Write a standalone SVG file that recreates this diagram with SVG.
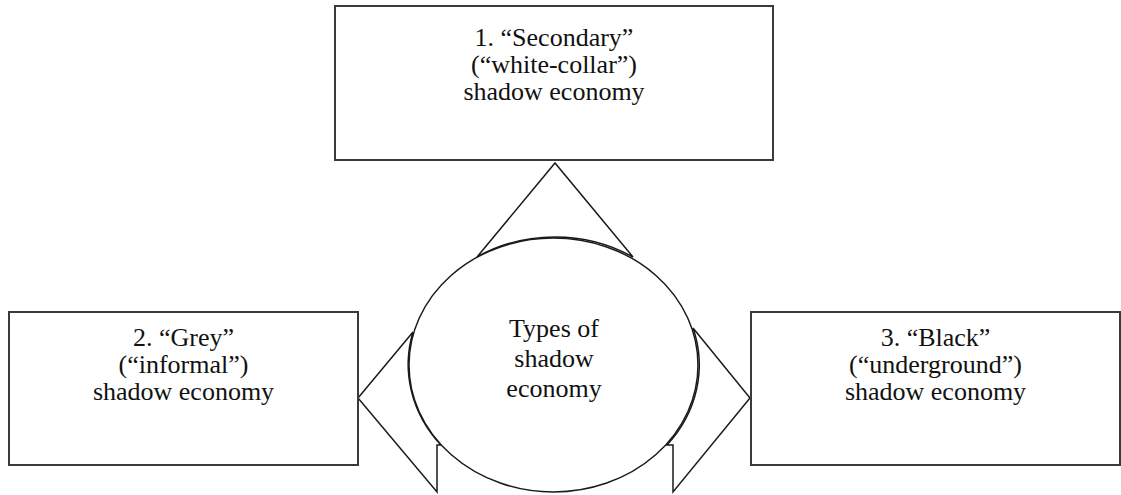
<svg xmlns="http://www.w3.org/2000/svg" width="1121" height="495" viewBox="0 0 1121 495">
  <style>
    .box { fill: #ffffff; stroke: #3a3a3a; stroke-width: 2; }
    .arrow { fill: #ffffff; stroke: #1a1a1a; stroke-width: 1.5; stroke-linejoin: miter; }
    .hub { fill: #ffffff; stroke: #1a1a1a; stroke-width: 1.5; }
    text { font-family: 'Liberation Serif', 'DejaVu Serif', serif; font-size: 26px; fill: #111111; text-anchor: middle; }
  </style>
  <rect width="1121" height="495" fill="#ffffff"/>
  <g id="connectors">
    <path class="arrow" d="M477,257 L555,163 L633,257 A144.5,127 0 0 0 477,257 Z"/>
    <path class="arrow" d="M413,332 L358,398 L437,492 L437,445 L441,445 A144.5,127 0 0 1 413,332 Z"/>
    <path class="arrow" d="M693,328 L750,398 L673,492 L673,445 L667,445 A144.5,127 0 0 0 693,328 Z"/>
  </g>
  <g id="node-center">
    <ellipse class="hub" cx="553.5" cy="365" rx="144.5" ry="127"/>
    <text x="554" y="337">Types of</text>
    <text x="554" y="367">shadow</text>
    <text x="554" y="397">economy</text>
  </g>
  <g id="node-secondary">
    <rect class="box" x="335" y="6" width="438" height="154"/>
    <text x="554" y="46">1. “Secondary”</text>
    <text x="554" y="73">(“white-collar”)</text>
    <text x="554" y="100">shadow economy</text>
  </g>
  <g id="node-grey">
    <rect class="box" x="9" y="312" width="349" height="153"/>
    <text x="183.5" y="346">2. “Grey”</text>
    <text x="183.5" y="373">(“informal”)</text>
    <text x="183.5" y="400">shadow economy</text>
  </g>
  <g id="node-black">
    <rect class="box" x="751" y="312" width="369" height="153"/>
    <text x="935.5" y="346">3. “Black”</text>
    <text x="935.5" y="373">(“underground”)</text>
    <text x="935.5" y="400">shadow economy</text>
  </g>
</svg>
